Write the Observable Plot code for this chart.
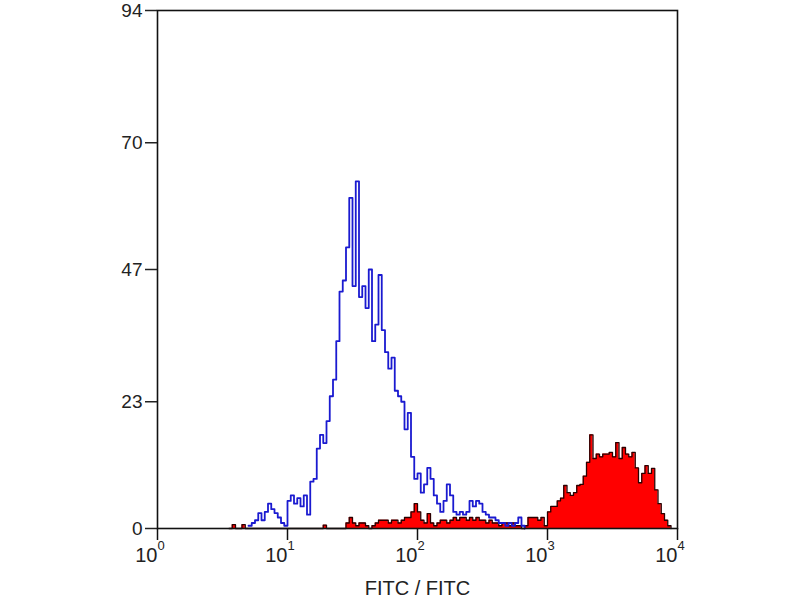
<!DOCTYPE html>
<html><head><meta charset="utf-8">
<script src="https://cdn.jsdelivr.net/npm/d3@7"></script>
<script src="https://cdn.jsdelivr.net/npm/@observablehq/plot@0.6"></script>
<style>body{margin:0;background:#fff} svg{display:block}</style>
</head><body><div id="chart"></div><script>
// Histogram channels: 40 channels per decade on a 4-decade log scale
const channelsPerDecade = 40;

// Blue (unfilled outline) histogram, counts per channel starting at channel 28
const blueStart = 28;
const blueCounts = [0.5, 1, 1.5, 2.8, 1.5, 3, 4.5, 3.5, 2.8, 2, 1, 0.5,
  5, 6, 4.5, 5.5, 4, 6, 2.5, 8.5, 9, 14.5, 17, 15.5, 19.5, 24, 27, 34, 43, 45,
  51, 60, 44, 63, 42, 44, 40, 47, 34, 37, 46, 36, 32, 29, 31, 25, 24, 23, 18, 21,
  13, 9, 10, 6.5, 8, 11, 9, 6, 4.5, 3, 5, 8, 6, 3, 2.5, 3, 2.5, 3, 5, 4, 5, 4.5,
  3, 2.5, 2, 2, 1.5, 1, 1, 0.5, 1, 0.5, 1, 2, 0.5, 0];

// Red (filled) histogram, counts per channel starting at channel 22
const redStart = 22;
const redCounts = [0, 0.7, 0, 0, 0.7,
  0, 0, 0, 0, 0, 0, 0, 0, 0, 0, 0, 0, 0, 0, 0, 0, 0, 0, 0, 0, 0, 0, 0, 0,
  0.6, 0, 0, 0, 0, 0, 0,
  1, 2, 1, 0.5, 1, 1, 0.5, 0, 0.5, 1, 1.5, 1.5, 1.5, 1, 1.5, 1.5, 1, 1.5, 2, 2,
  3, 4.5, 3, 1.5, 1, 2.7, 1, 0.5, 1, 1.5, 1.5, 1, 1.5, 2, 1.5, 2, 2, 1.5, 2, 1.5,
  2, 1.5, 1.5, 1, 1.5, 1, 1, 0.5, 1, 1, 0.5, 1, 0.5, 0.5, 0, 0.5,
  2, 2, 2, 1.5, 2, 0.5, 3, 4, 4, 5, 5.5, 7.8, 6.5, 6, 6.5, 7.8, 8, 9.5, 12, 17,
  12.7, 13.5, 13, 13.5, 13.5, 13.8, 13, 15.6, 12.7, 14.7, 13.5, 13, 13.8, 11, 8.3,
  10, 11.4, 10, 10.9, 7, 4.5, 2.7, 1.5, 0.5, 0];

// Axis ticks and labels
const xTickValues = [1, 10, 100, 1000, 10000];
const xTickBase = "10";
const xTickExponents = ["0", "1", "2", "3", "4"];
const yTicks = [0, 23, 47, 70, 94];
const xLabel = "FITC / FITC";

const toRows = (start, counts) =>
  counts.map((c, i) => ({x: Math.pow(10, (start + i) / channelsPerDecade), y: c}));
const blue = toRows(blueStart, blueCounts);
const red = toRows(redStart, redCounts);

const plot = Plot.plot({
  width: 800,
  height: 600,
  marginLeft: 157,
  marginRight: 123,
  marginTop: 10,
  marginBottom: 72,
  style: {fontFamily: "'Liberation Sans', Arial, sans-serif", background: "#fff", color: "#222"},
  x: {type: "log", domain: [1, 10000]},
  y: {domain: [0, 94]},
  marks: [
    Plot.areaY(red, {x: "x", y: "y", curve: "step-after", fill: "#ff0000"}),
    Plot.line(red, {x: "x", y: "y", curve: "step-after", stroke: "#2a0000", strokeWidth: 1.3}),
    Plot.line(blue, {x: "x", y: "y", curve: "step-after", stroke: "#1a1ad0", strokeWidth: 1.8}),
    Plot.frame({stroke: "#111", strokeWidth: 1.6}),
    Plot.axisY(yTicks, {tickSize: 12, tickPadding: 3, fontSize: 19, color: "#222", strokeWidth: 1.5, label: null, tickFormat: d => String(d)}),
    Plot.axisX(xTickValues, {tickSize: 12, tickFormat: () => "", label: null, color: "#111", strokeWidth: 1.5}),
    Plot.text(xTickValues, {x: d => d, text: () => xTickBase, frameAnchor: "bottom", dy: 33, textAnchor: "end", fontSize: 20, fill: "#222"}),
    Plot.text(xTickValues, {x: d => d, text: (d, i) => xTickExponents[i], frameAnchor: "bottom", dy: 21, textAnchor: "start", fontSize: 13, fill: "#222"}),
    Plot.text([xLabel], {text: d => d, frameAnchor: "bottom", dy: 66, fontSize: 20, fill: "#222"})
  ]
});
document.getElementById("chart").appendChild(plot);
</script></body></html>
